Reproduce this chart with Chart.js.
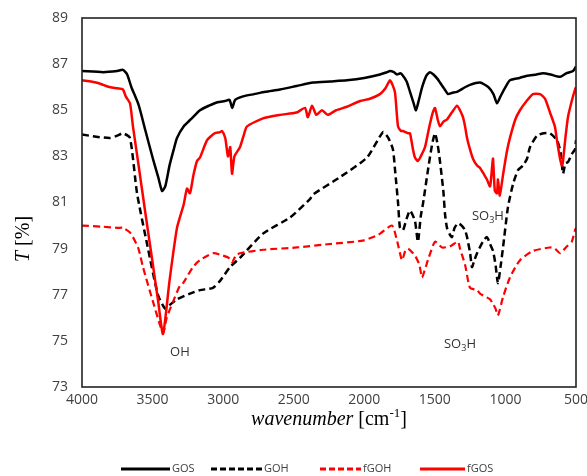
<!DOCTYPE html>
<html>
<head>
<meta charset="utf-8">
<script src="https://cdn.jsdelivr.net/npm/chart.js@4.4.1/dist/chart.umd.min.js"></script>
<style>
html,body{margin:0;padding:0;background:#fff;}
#wrap{width:587px;height:476px;position:relative;}
</style>
</head>
<body>
<div id="wrap"><canvas id="c" width="587" height="476"></canvas></div>
<script>
// ---- data (wavenumber in cm-1, transmittance in %) ----
const seriesNames = ["GOS", "GOH", "fGOH", "fGOS"];
const xTicks = [4000, 3500, 3000, 2500, 2000, 1500, 1000, 500];
const yTicks = [73, 75, 77, 79, 81, 83, 85, 87, 89];

const gosX = [4000,3850,3750,3710,3680,3650,3600,3550,3500,3460,3433,3410,3380,3350,3327,3280,3230,3164,3100,3040,2987,2955,2935,2915,2859,2780,2700,2597,2480,2363,2240,2123,2000,1889,1840,1818,1790,1768,1745,1726,1700,1676,1650,1634,1615,1590,1560,1535,1510,1480,1464,1430,1407,1380,1343,1300,1251,1180,1120,1085,1060,1035,1000,968,900,847,780,734,680,613,570,521,500];
const gosY = [86.7,86.65,86.7,86.75,86.55,86.0,85.25,84.1,82.95,82.1,81.5,81.7,82.6,83.3,83.8,84.3,84.6,85.0,85.2,85.35,85.4,85.45,85.1,85.45,85.6,85.7,85.8,85.9,86.05,86.2,86.25,86.3,86.4,86.55,86.65,86.7,86.65,86.55,86.6,86.5,86.25,85.8,85.3,85.0,85.4,86.0,86.5,86.65,86.55,86.35,86.2,85.9,85.7,85.75,85.8,85.95,86.1,86.2,86.0,85.7,85.3,85.6,86.0,86.3,86.4,86.5,86.55,86.6,86.55,86.45,86.6,86.7,86.9];

const gohX = [4000,3900,3800,3750,3710,3660,3610,3539,3462,3412,3380,3327,3235,3164,3072,3022,2951,2881,2718,2526,2385,2363,2172,1981,1867,1830,1797,1782,1761,1747,1726,1700,1676,1641,1620,1600,1584,1549,1520,1499,1480,1464,1440,1428,1414,1393,1379,1360,1336,1310,1286,1272,1250,1237,1220,1201,1160,1131,1109,1088,1070,1053,1035,1017,982,946,911,876,847,826,776,730,684,635,610,592,575,557,530,507,500];
const gohY = [83.95,83.85,83.8,83.9,84.0,83.8,81.4,79.2,77.0,76.4,76.55,76.8,77.05,77.2,77.3,77.6,78.2,78.6,79.65,80.35,81.15,81.35,82.1,82.95,84.05,83.8,83.3,82.4,81.0,79.9,79.8,80.3,80.65,80.2,79.3,80.4,80.95,82.4,83.5,84.0,83.5,82.8,81.5,80.5,79.9,79.6,79.5,79.9,80.1,80.0,79.8,79.5,78.8,78.2,78.5,78.8,79.3,79.5,79.2,78.9,78.3,77.5,78.2,79.05,80.8,81.8,82.4,82.6,82.9,83.4,83.9,84.0,84.0,83.7,83.2,82.25,82.7,82.75,83.1,83.3,83.7];

const fgohX = [4000,3850,3750,3710,3660,3639,3600,3568,3497,3426,3400,3355,3306,3284,3214,3164,3072,3001,2960,2937,2910,2881,2718,2477,2243,2009,1900,1804,1768,1733,1710,1690,1641,1610,1591,1570,1549,1499,1449,1393,1336,1322,1286,1251,1201,1180,1109,1088,1070,1053,1017,968,897,805,684,650,613,564,530,507,500];
const fgohY = [80.0,79.95,79.9,79.9,79.7,79.5,79.0,78.2,76.7,75.35,76.0,76.7,77.4,77.5,78.2,78.5,78.8,78.7,78.6,78.4,78.7,78.8,78.95,79.05,79.2,79.35,79.6,80.0,79.35,78.5,78.9,79.0,78.7,78.3,77.75,78.1,78.5,79.3,79.05,79.1,79.3,79.0,78.3,77.3,77.2,77.05,76.8,76.6,76.4,76.1,76.9,77.75,78.5,78.9,79.05,79.0,78.8,79.1,79.3,79.8,79.9];

const fgosX = [4000,3900,3850,3800,3750,3710,3690,3660,3639,3600,3550,3500,3460,3426,3380,3327,3280,3256,3235,3210,3185,3164,3114,3060,3022,3008,2985,2966,2950,2937,2920,2881,2850,2831,2718,2597,2480,2420,2400,2370,2340,2300,2260,2200,2123,2030,1960,1889,1850,1818,1800,1782,1761,1740,1726,1690,1676,1655,1641,1620,1600,1570,1549,1535,1515,1499,1480,1464,1440,1414,1380,1343,1322,1301,1286,1272,1251,1230,1201,1180,1150,1131,1109,1095,1088,1075,1060,1053,1040,1017,990,968,930,897,850,805,755,720,684,650,635,613,599,592,575,557,530,507,500];
const fgosY = [86.3,86.2,86.1,86.0,85.95,85.9,85.6,85.3,84.3,82.65,80.5,78.4,76.7,75.3,77.6,79.9,80.9,81.6,81.4,82.2,82.8,82.95,83.7,84.0,84.05,84.1,83.8,83.0,83.4,82.25,83.0,83.4,84.0,84.3,84.65,84.8,84.9,85.1,84.7,85.2,84.8,85.0,84.8,85.0,85.15,85.4,85.5,85.7,85.95,86.3,86.1,85.75,84.3,84.1,84.1,84.0,84.0,83.3,82.95,82.8,83.0,83.4,84.0,84.4,84.9,85.1,84.6,84.3,84.5,84.6,84.9,85.2,85.0,84.7,84.3,83.8,83.3,82.9,82.6,82.5,82.2,82.0,81.7,82.5,82.9,81.5,81.4,82.0,81.3,82.2,83.2,83.8,84.6,85.0,85.4,85.7,85.7,85.5,84.9,84.3,83.7,82.9,82.6,82.8,83.8,84.7,85.4,85.9,86.0];

// annotation labels placed in data coordinates
const annotations = [
  {parts:[["OH",false]], x:3306, y:74.5},
  {parts:[["SO",false],["3",true],["H",false]], x:1322, y:74.85},
  {parts:[["SO",false],["3",true],["H",false]], x:1124, y:80.4}
];

function pts(xs, ys){ return xs.map((x,i)=>({x:x, y:ys[i]})); }

const RED = '#ff0000';
const styles = {
  GOS:  {color:'#000', dash:[], width:2.5},
  GOH:  {color:'#000', dash:[7,4], width:2.5},
  fGOH: {color:RED, dash:[7,4], width:2.2},
  fGOS: {color:RED, dash:[], width:2.5}
};
const dataMap = {GOS:[gosX,gosY], GOH:[gohX,gohY], fGOH:[fgohX,fgohY], fGOS:[fgosX,fgosY]};
const drawOrder = {GOS:1, GOH:3, fGOH:2, fGOS:0};

const datasets = seriesNames.map(n => ({
  label:n,
  data: pts(dataMap[n][0], dataMap[n][1]),
  borderColor: styles[n].color,
  borderDash: styles[n].dash,
  borderWidth: styles[n].width,
  pointRadius:0,
  tension:0.2,
  fill:false,
  order: drawOrder[n]
}));

const TICK_FONT = {family:'"Open Sans", sans-serif', size:14};
const TICK_COLOR = '#404040';

const decor = {
  id:'decor',
  afterDatasetsDraw(chart){
    const ctx = chart.ctx, a = chart.chartArea;
    ctx.save();
    ctx.strokeStyle = '#222';
    ctx.lineWidth = 1.6;
    ctx.setLineDash([]);
    ctx.strokeRect(a.left, a.top, a.right-a.left, a.bottom-a.top);
    ctx.restore();
  },
  afterDraw(chart){
    const ctx = chart.ctx;
    const xs = chart.scales.x, ys = chart.scales.y;
    ctx.save();
    // x-axis title
    const serif = '"Liberation Serif", "DejaVu Serif", serif';
    const segsX = [
      ['wavenumber', 'italic 20px '+serif, 0],
      [' [cm', '20px '+serif, 0],
      ['-1', '13px '+serif, -6],
      [']', '20px '+serif, 0]
    ];
    drawSegs(ctx, segsX, 329, 420);
    // y-axis title rotated
    ctx.save();
    ctx.translate(24, 239);
    ctx.rotate(-Math.PI/2);
    drawSegs(ctx, [['T','italic 20px '+serif,0],[' [%]','20px '+serif,0]], 0, 0);
    ctx.restore();

    // annotations
    for(const an of annotations){
      const px = xs.getPixelForValue(an.x), py = ys.getPixelForValue(an.y);
      const segs = an.parts.map(p => p[1] ? [p[0], '9px "Open Sans", sans-serif', 4] : [p[0], '13px "Open Sans", sans-serif', 0]);
      drawSegs(ctx, segs, px, py, '#333');
    }

    // legend
    const ly = 469;
    const items = [
      {n:'GOS', x1:121, x2:170},
      {n:'GOH', x1:211, x2:262},
      {n:'fGOH', x1:320, x2:361},
      {n:'fGOS', x1:420, x2:465}
    ];
    for(const it of items){
      const st = styles[it.n];
      ctx.beginPath();
      ctx.strokeStyle = st.color;
      ctx.lineWidth = 3;
      ctx.setLineDash(st.dash.length ? [6,3] : []);
      ctx.moveTo(it.x1, ly); ctx.lineTo(it.x2, ly);
      ctx.stroke();
      ctx.setLineDash([]);
      ctx.fillStyle = '#404040';
      ctx.font = '11px "Open Sans", sans-serif';
      ctx.textAlign = 'left';
      ctx.textBaseline = 'middle';
      ctx.fillText(it.n, it.x2 + 2, ly);
    }
    ctx.restore();
  }
};

function drawSegs(ctx, segs, cx, cy, color){
  ctx.save();
  ctx.fillStyle = color || '#000';
  ctx.textBaseline = 'middle';
  ctx.textAlign = 'left';
  let total = 0;
  for(const s of segs){ ctx.font = s[1]; total += ctx.measureText(s[0]).width; }
  let x = cx - total/2;
  for(const s of segs){
    ctx.font = s[1];
    ctx.fillText(s[0], x, cy + s[2]);
    x += ctx.measureText(s[0]).width;
  }
  ctx.restore();
}

new Chart(document.getElementById('c'), {
  type:'line',
  data:{datasets},
  options:{
    responsive:false,
    animation:false,
    devicePixelRatio:1,
    layout:{padding:{top:18, right:11, left:0, bottom:0}},
    plugins:{legend:{display:false}, tooltip:{enabled:false}},
    scales:{
      x:{
        type:'linear', reverse:true, min:500, max:4000,
        afterBuildTicks(s){ s.ticks = xTicks.map(v=>({value:v})); },
        ticks:{font:TICK_FONT, color:TICK_COLOR, padding:5, maxRotation:0, autoSkip:false, callback:v=>String(v)},
        grid:{display:false, drawTicks:false},
        border:{display:false},
        afterFit(s){ s.height = 89; s.paddingLeft = 0; s.paddingRight = 0; }
      },
      y:{
        min:73, max:89,
        afterBuildTicks(s){ s.ticks = yTicks.map(v=>({value:v})); },
        ticks:{font:TICK_FONT, color:TICK_COLOR, padding:14, callback:v=>String(v)},
        grid:{display:false, drawTicks:false},
        border:{display:false},
        afterFit(s){ s.width = 82; s.paddingTop = 0; s.paddingBottom = 0; }
      }
    }
  },
  plugins:[decor]
});
</script>
</body>
</html>
